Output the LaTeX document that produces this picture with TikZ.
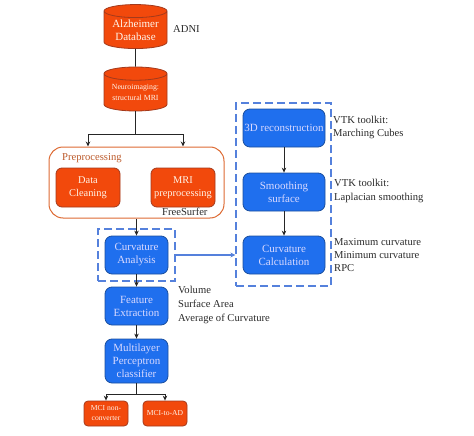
\documentclass[tikz,border=0pt]{standalone}
\usepackage{fontspec}
\setmainfont{Liberation Serif}
\usetikzlibrary{shapes.geometric,arrows.meta,calc}
\definecolor{redf}{HTML}{F2490C}
\definecolor{redd}{HTML}{A33A1C}
\definecolor{bluef}{HTML}{1F6FEE}
\definecolor{blued}{HTML}{1B4F9E}
\definecolor{dashc}{HTML}{5581DC}
\definecolor{prec}{HTML}{DD6A33}
\definecolor{txtc}{HTML}{2A2A2A}
\tikzset{
 cyl/.style={cylinder,shape border rotate=90,aspect=0.28,draw=redd,fill=redf,line width=0.8pt,text=white!92!orange,align=center,inner sep=0pt,minimum width=63pt,font=\fontsize{11}{13.5}\selectfont},
 bluebox/.style={rectangle,rounded corners=7pt,draw=blued,fill=bluef,line width=0.8pt,text=white!85!blue,align=center,inner sep=0pt,minimum width=63pt,minimum height=38pt,font=\fontsize{11}{13}\selectfont},
 redbox/.style={rectangle,rounded corners=6pt,draw=redd,fill=redf,line width=0.8pt,text=white!90!orange,align=center,inner sep=0pt,minimum width=64pt,minimum height=39pt,font=\fontsize{10.4}{13}\selectfont},
 smallred/.style={rectangle,rounded corners=4pt,draw=redd,fill=redf,line width=0.8pt,text=white!92!orange,align=center,inner sep=0pt,minimum width=44pt,minimum height=25pt,font=\fontsize{7.6}{10}\selectfont},
 dashbox/.style={rectangle,draw=dashc,line width=1.25pt,dash pattern=on 8pt off 4pt,inner sep=0pt},
 note/.style={text=txtc,align=left,anchor=west,inner sep=0pt,font=\fontsize{10.6}{13.3}\selectfont},
 conn/.style={draw=black!85,line width=0.8pt,-{Stealth[length=5pt,width=4.5pt]}},
 plainc/.style={draw=black!85,line width=0.8pt},
 bluec/.style={draw=dashc,line width=1.25pt,-{Stealth[length=5pt,width=5pt]}},
}
\begin{document}
\begin{tikzpicture}[x=1pt,y=-1pt]
\useasboundingbox (0,0) rectangle (474,436);
% outer frames
\node[rectangle,rounded corners=14pt,draw=prec,line width=1pt,minimum width=175pt,minimum height=71pt,inner sep=0pt] (prep) at (136.5,182.5) {};
\node[dashbox,minimum width=77pt,minimum height=52pt] (cdash) at (136.5,255) {};
\node[dashbox,minimum width=95pt,minimum height=183pt] (rdash) at (283.5,194.5) {};
% nodes
\node[cyl,minimum height=44pt] (alz) at (135.5,30) {Alzheimer\\Database};
\node[cyl,minimum height=44pt,font=\fontsize{7.8}{11}\selectfont] (neuro) at (135.5,92.5) {Neuroimaging:\\structural MRI};
\node[redbox] (clean) at (88,187.5) {Data\\Cleaning};
\node[redbox] (mri) at (183,187.5) {MRI\\preprocessing};
\node[bluebox] (curv) at (136.5,255) {Curvature\\Analysis};
\node[bluebox] (feat) at (136.5,306) {Feature\\Extraction};
\node[bluebox,minimum height=44pt] (mlp) at (136.5,361) {Multilayer\\Perceptron\\classifier};
\node[smallred] (non) at (106,413.5) {MCI non-\\converter};
\node[smallred] (toad) at (165,413.5) {MCI-to-AD};
\node[bluebox,minimum width=82pt] (recon) at (284,128) {3D reconstruction};
\node[bluebox,minimum width=82pt] (smooth) at (284,192) {Smoothing\\surface};
\node[bluebox,minimum width=82pt] (calc) at (284,255) {Curvature\\Calculation};
% labels
\node[note] (adni) at (173,29) {ADNI};
\node[note,text=prec!85!black] (preplab) at (62,158) {Preprocessing};
\node[note] (fs) at (162,212) {FreeSurfer};
\node[note] (vtka) at (333,127.5) {VTK toolkit:\\Marching Cubes};
\node[note] (vtkb) at (334,191) {VTK toolkit:\\Laplacian smoothing};
\node[note] (maxc) at (334,255) {Maximum curvature\\Minimum curvature\\RPC};
\node[note,font=\fontsize{10.6}{14}\selectfont] (vol) at (178,305) {Volume\\Surface Area\\Average of Curvature};
% connectors
\coordinate (splita) at (neuro.south |- 0,134);
\coordinate (splitb) at (mlp.south |- 0,394);
\draw[plainc] (alz.south) -- (neuro.north);
\draw[plainc] (neuro.south) -- (splita);
\draw[conn] (splita) -| (clean.north |- prep.north);
\draw[conn] (splita) -| (mri.north |- prep.north);
\draw[conn] (prep.south) -- (curv.north);
\draw[conn] (curv.south) -- (feat.north);
\draw[conn] (feat.south) -- (mlp.north);
\draw[plainc] (mlp.south) -- (splitb);
\draw[conn] (splitb) -| (non.north);
\draw[conn] (splitb) -| (toad.north);
\draw[conn] (recon.south) -- (smooth.north);
\draw[conn] (smooth.south) -- (calc.north);
\draw[bluec] (cdash.east) -- (rdash.west |- cdash.east);
\end{tikzpicture}
\end{document}
